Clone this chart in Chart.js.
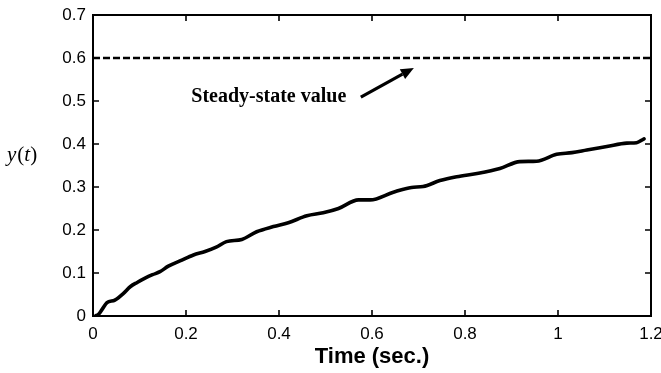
<!DOCTYPE html>
<html>
<head>
<meta charset="utf-8">
<script src="https://cdn.jsdelivr.net/npm/chart.js@4.4.0/dist/chart.umd.min.js"></script>
<style>
  html, body { margin: 0; padding: 0; background: #fff; }
  #wrap { width: 661px; height: 373px; position: relative; }
</style>
</head>
<body>
<div id="wrap"><canvas id="c" width="661" height="373"></canvas></div>
<script>
// ---- data ----
const time = [0.005, 0.012, 0.02, 0.03, 0.047, 0.065, 0.08, 0.095, 0.112, 0.128, 0.144, 0.162, 0.187, 0.216, 0.241, 0.265, 0.287, 0.32, 0.352, 0.388, 0.42, 0.46, 0.495, 0.528, 0.571, 0.596, 0.646, 0.685, 0.71, 0.746, 0.782, 0.829, 0.875, 0.918, 0.954, 0.997, 1.03, 1.062, 1.105, 1.148, 1.169, 1.185];
const response = [0.0, 0.004, 0.016, 0.031, 0.037, 0.052, 0.068, 0.078, 0.088, 0.096, 0.103, 0.116, 0.128, 0.142, 0.150, 0.160, 0.173, 0.178, 0.196, 0.208, 0.217, 0.233, 0.240, 0.250, 0.270, 0.270, 0.288, 0.299, 0.301, 0.315, 0.324, 0.332, 0.343, 0.359, 0.360, 0.376, 0.380, 0.386, 0.394, 0.402, 0.403, 0.412];
const steadyTime = [0, 1.2];
const steadyValue = [0.6, 0.6];
const xTickValues = [0, 0.2, 0.4, 0.6, 0.8, 1, 1.2];
const yTickValues = [0, 0.1, 0.2, 0.3, 0.4, 0.5, 0.6, 0.7];
const annotationText = 'Steady-state value';
const xTitle = 'Time (sec.)';

const curvePoints = time.map((t, i) => ({ x: t, y: response[i] }));
const steadyPoints = steadyTime.map((t, i) => ({ x: t, y: steadyValue[i] }));

const framePlugin = {
  id: 'frame',
  afterDraw(chart) {
    const { ctx, chartArea: a, scales: { x, y } } = chart;
    ctx.save();
    ctx.strokeStyle = '#000';
    ctx.lineWidth = 2;
    ctx.strokeRect(a.left, a.top, a.right - a.left, a.bottom - a.top);
    ctx.lineWidth = 1.6;
    const tl = 6;
    ctx.beginPath();
    xTickValues.forEach(v => {
      const px = x.getPixelForValue(v);
      ctx.moveTo(px, a.bottom); ctx.lineTo(px, a.bottom - tl);
      ctx.moveTo(px, a.top); ctx.lineTo(px, a.top + tl);
    });
    yTickValues.forEach(v => {
      const py = y.getPixelForValue(v);
      ctx.moveTo(a.left, py); ctx.lineTo(a.left + tl, py);
      ctx.moveTo(a.right, py); ctx.lineTo(a.right - tl, py);
    });
    ctx.stroke();

    // annotation text
    ctx.fillStyle = '#000';
    ctx.font = 'bold 20px "Liberation Serif", "Times New Roman", serif';
    ctx.textAlign = 'center';
    ctx.textBaseline = 'alphabetic';
    ctx.fillText(annotationText, x.getPixelForValue(0.378), y.getPixelForValue(0.498));

    // arrow
    const x0 = x.getPixelForValue(0.576), y0 = y.getPixelForValue(0.509);
    const x1 = x.getPixelForValue(0.690), y1 = y.getPixelForValue(0.577);
    const ang = Math.atan2(y1 - y0, x1 - x0);
    const hl = 13, hw = 5.5;
    const bx = x1 - hl * Math.cos(ang), by = y1 - hl * Math.sin(ang);
    ctx.lineWidth = 3.2;
    ctx.beginPath();
    ctx.moveTo(x0, y0); ctx.lineTo(bx, by);
    ctx.stroke();
    ctx.beginPath();
    ctx.moveTo(x1, y1);
    ctx.lineTo(bx + hw * Math.sin(ang), by - hw * Math.cos(ang));
    ctx.lineTo(bx - hw * Math.sin(ang), by + hw * Math.cos(ang));
    ctx.closePath();
    ctx.fill();

    // y-axis label y(t)
    ctx.textAlign = 'left';
    ctx.textBaseline = 'alphabetic';
    const ly = 161;
    let lx = 7;
    const it = 'italic 21px "Liberation Serif", "Times New Roman", serif';
    const up = '21px "Liberation Serif", "Times New Roman", serif';
    const parts = [['y', it], ['(', up], ['t', it], [')', up]];
    parts.forEach(([s, f]) => {
      ctx.font = f;
      ctx.fillText(s, lx, ly);
      lx += ctx.measureText(s).width + (s === 'y' ? 1 : 0);
    });
    ctx.restore();
  }
};

new Chart(document.getElementById('c'), {
  type: 'line',
  data: {
    datasets: [
      {
        data: curvePoints,
        borderColor: '#000',
        borderWidth: 3.6,
        pointRadius: 0,
        tension: 0.3,
        cubicInterpolationMode: 'monotone',
        borderJoinStyle: 'round',
        borderCapStyle: 'round',
        fill: false
      },
      {
        data: steadyPoints,
        borderColor: '#000',
        borderWidth: 2.6,
        borderDash: [7, 3],
        pointRadius: 0,
        fill: false
      }
    ]
  },
  options: {
    responsive: false,
    animation: false,
    devicePixelRatio: 1,
    layout: { padding: { top: 15, right: 10, left: 0, bottom: 0 } },
    plugins: { legend: { display: false }, tooltip: { enabled: false } },
    scales: {
      x: {
        type: 'linear',
        min: 0, max: 1.2,
        afterBuildTicks(scale) { scale.ticks = xTickValues.map(v => ({ value: v })); },
        afterFit(scale) { scale.height = 57; scale.paddingLeft = 0; scale.paddingRight = 0; },
        grid: { display: false, drawTicks: false },
        border: { display: false },
        ticks: {
          padding: 8,
          color: '#000',
          maxRotation: 0,
          font: { family: '"Liberation Sans", Arial, sans-serif', size: 17 },
          callback: v => String(Math.round(v * 10) / 10)
        },
        title: {
          display: true,
          text: xTitle,
          color: '#000',
          font: { family: '"Liberation Sans", Arial, sans-serif', size: 22, weight: 'bold' },
          padding: { top: 0, bottom: 3 }
        }
      },
      y: {
        type: 'linear',
        min: 0, max: 0.7,
        afterBuildTicks(scale) { scale.ticks = yTickValues.map(v => ({ value: v })); },
        afterFit(scale) { scale.width = 93; scale.paddingTop = 0; scale.paddingBottom = 0; },
        grid: { display: false, drawTicks: false },
        border: { display: false },
        ticks: {
          padding: 7,
          color: '#000',
          font: { family: '"Liberation Sans", Arial, sans-serif', size: 17 },
          callback: v => String(Math.round(v * 10) / 10)
        }
      }
    }
  },
  plugins: [framePlugin]
});
</script>
</body>
</html>
